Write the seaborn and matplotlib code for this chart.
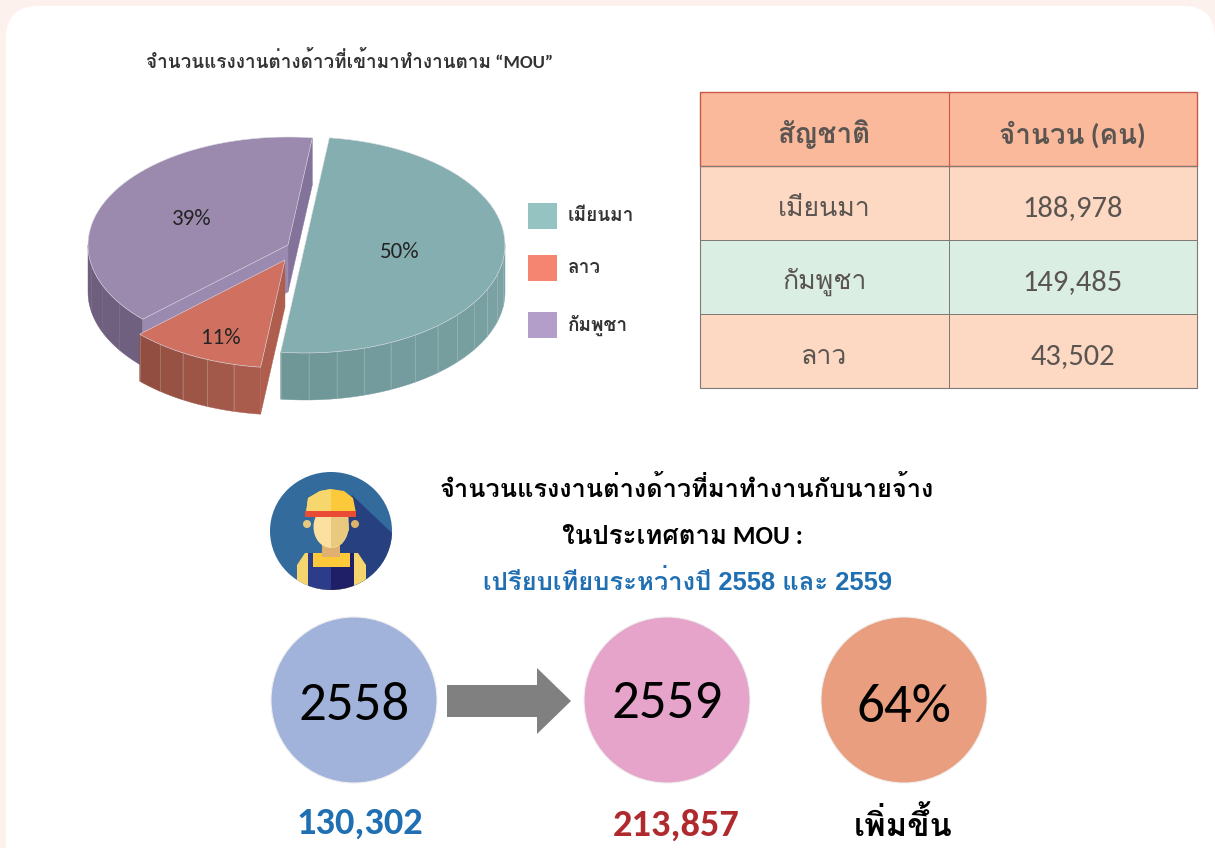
"""Infographic: MOU migrant workers in Thailand, 3D pie, table and yearly comparison."""
import numpy as np
import matplotlib
matplotlib.use('Agg')
import matplotlib.pyplot as plt
from matplotlib.colors import ListedColormap
from matplotlib.patches import Circle, Ellipse, FancyBboxPatch, Polygon, Rectangle
import seaborn as sns

sns.set_theme(style='white')
FONT = ['Carlito', 'Loma', 'Noto Sans Thai Looped', 'DejaVu Sans']
plt.rcParams['font.family'] = FONT

# ── data ──────────────────────────────────────────────
pie_names = ['เมียนมา', 'ลาว', 'กัมพูชา']
pie_values = [50, 11, 39]
table_header = ['สัญชาติ', 'จำนวน (คน)']
table_names = ['เมียนมา', 'กัมพูชา', 'ลาว']
table_values = [188978, 149485, 43502]
years = ['2558', '2559']
year_totals = [130302, 213857]
change_label = '64%'
change_word = 'เพิ่มขึ้น'
pie_title = 'จำนวนแรงงานต่างด้าวที่เข้ามาทำงานตาม “MOU”'
head_lines = ['จำนวนแรงงานต่างด้าวที่มาทำงานกับนายจ้าง', 'ในประเทศตาม MOU :']
sub_line = 'เปรียบเทียบระหว่างปี 2558 และ 2559'

# ── canvas in image pixels ────────────────────────────
fig = plt.figure(figsize=(12.15, 8.48), dpi=100, facecolor='#fdf1ee')
ax = fig.add_axes([0, 0, 1, 1])
ax.set_xlim(0, 1215)
ax.set_ylim(848, 0)
ax.axis('off')
ax.add_patch(FancyBboxPatch((6, 6), 1209, 900, boxstyle='round,pad=0,rounding_size=32',
                            fc='white', ec='none'))

# ── 3D pie ────────────────────────────────────────────
RX, RY, DEPTH = 200, 108, 47
START = 83.0
shares = np.array(pie_values) / sum(pie_values)
angles = START - np.concatenate([[0], np.cumsum(shares)]) * 360


def rim(cx, cy, t1, t2, n=60):
    t = np.radians(np.linspace(t1, t2, n))
    return np.column_stack([cx + RX * np.cos(t), cy - RY * np.sin(t)])


def wall(cx, cy, t1, t2, dark, light, step=9.0, seams=True):
    # outer wall of a slice, built from facets with a pale seam between them
    n = max(int(abs(t2 - t1) / step), 1)
    edges = np.linspace(t1, t2, n + 1)
    cols = sns.blend_palette([dark, light], n)
    for i in range(n):
        arc = rim(cx, cy, edges[i], edges[i + 1], 8)
        low = arc[::-1] + [0, DEPTH]
        ax.add_patch(Polygon(np.vstack([arc, low]), fc=cols[i], ec=cols[i], lw=0.3))
        if seams:
            ax.plot([arc[0, 0], arc[0, 0]], [arc[0, 1], arc[0, 1] + DEPTH],
                    color='#c9d4d2', lw=0.4, alpha=0.45)


def top(cx, cy, t1, t2, color):
    pts = np.vstack([[cx, cy], rim(cx, cy, t1, t2)])
    ax.add_patch(Polygon(pts, fc=color, ec='#dcdce4', lw=0.4))


def cut(cx, cy, t, color):
    # flat cut face from the apex to the rim, pushed down by the depth
    p = rim(cx, cy, t, t, 1)[0]
    pts = [[cx, cy], p, p + [0, DEPTH], [cx, cy + DEPTH]]
    ax.add_patch(Polygon(pts, fc=color, ec=color, lw=0.3))


# purple at the back first, then red, then teal on top
pc = (288, 245)
wall(*pc, -180, angles[2], '#6e5f7e', '#70607f', seams=False)
cut(*pc, angles[3] + 360, '#83739a')
cut(*pc, angles[2], '#9a8ab0')
top(*pc, angles[2], angles[3], '#9b89ae')

rc = (285, 260)
wall(*rc, angles[2], angles[1], '#914e41', '#a95c4b', step=7)
cut(*rc, angles[1], '#af5e4d')
top(*rc, angles[1], angles[2], '#d07060')

tc = (305, 245)
wall(*tc, angles[1], 0, '#6f9798', '#7ca3a5', step=8)
top(*tc, angles[0], angles[1], '#85aeb0')

pie_labels = [f'{v}%' for v in pie_values]
for txt, xy in zip(pie_labels, [(400, 252), (221, 338), (192, 219)]):
    ax.text(*xy, txt, ha='center', va='center', fontsize=16.5, color='#232323', fontweight='medium')

ax.text(350, 61, pie_title, ha='center', va='center', fontsize=13.6, color='#333333', fontweight='bold')

# legend
swatch_cols = ['#94c3c1', '#f58570', '#b39ec9']
for name, col, y in zip(pie_names, swatch_cols, [216, 268, 325]):
    ax.add_patch(Rectangle((528, y - 13), 29, 26, fc=col, ec='none'))
    ax.text(568, y, name, ha='left', va='center', fontsize=13.7, color='#333333', fontweight='bold')

# ── table, drawn as a heatmap ─────────────────────────
tax = fig.add_axes([700 / 1215, 1 - 388 / 848, 497 / 1215, 296 / 848])
codes = np.array([[0, 0], [1, 1], [2, 2], [1, 1]])
cells = [table_header] + [[n, f'{v:,}'] for n, v in zip(table_names, table_values)]
sns.heatmap(codes, annot=np.array(cells), fmt='', cbar=False, ax=tax, vmin=0, vmax=2,
            cmap=ListedColormap(['#fbb99b', '#fdd8c3', '#dbeee3']),
            linewidths=0.7, linecolor='#7f7a75', xticklabels=False, yticklabels=False,
            annot_kws={'fontsize': 19.2, 'color': '#5a5551'})
for i, t in enumerate(tax.texts):
    t.set_family(FONT)
    if i < 2:
        t.set_fontweight('bold')
        t.set_fontsize(20)
    elif i % 2 == 1:
        t.set_fontsize(22)
    x, y = t.get_position()
    t.set_position((x, y + 0.07))
tax.add_patch(Rectangle((0, 0), 2, 1, fc='none', ec='#c9574a', lw=1, clip_on=False))
tax.plot([1, 1], [0, 1], color='#c9574a', lw=0.8)
tax.add_patch(Rectangle((0, 1), 2, 3, fc='none', ec='#7f7a75', lw=0.8, clip_on=False))

# ── worker icon ───────────────────────────────────────
disc = Ellipse((331, 531), 122, 118, fc='#336b9c', ec='none')
ax.add_patch(disc)
parts = [
    Polygon([(352, 495), (395, 536), (392, 600), (350, 600), (320, 560)], fc='#27407f', ec='none'),
    Polygon([(297, 600), (297, 565), (305, 553), (358, 553), (366, 565), (366, 600)], fc='#f7d56e', ec='none'),
    Rectangle((313, 553), 37, 15, fc='#fcc93b', ec='none'),
    Polygon([(308, 553), (313, 553), (313, 567), (331, 567), (331, 600), (308, 600)], fc='#2b3d8a', ec='none'),
    Polygon([(331, 567), (350, 567), (350, 553), (354, 553), (354, 600), (331, 600)], fc='#1e1f66', ec='none'),
    Rectangle((322, 540), 18, 17, fc='#e0b070', ec='none'),
    Circle((307, 524), 4, fc='#e8c97e', ec='none'),
    Circle((355, 524), 4, fc='#d9b46a', ec='none'),
    Ellipse((331, 527), 35, 42, fc='#fbe0a0', ec='none'),
    Polygon([(331, 506), (348, 506), (349, 530), (342, 544), (331, 548)], fc='#e8c97e', ec='none'),
    Polygon([(306, 513), (308, 498), (320, 491), (331, 489), (344, 491), (353, 498), (356, 513)],
            fc='#fcc93b', ec='none'),
    Polygon([(306, 513), (308, 498), (320, 491), (331, 489), (331, 513)], fc='#f5d76e', ec='none'),
    Rectangle((305, 511), 51, 6, fc='#ea4b35', ec='none'),
]
for p in parts:
    ax.add_patch(p)
    p.set_clip_path(disc)

# ── headline ──────────────────────────────────────────
ax.text(687, 488, head_lines[0], ha='center', va='center', fontsize=18.3, color='black', fontweight='bold')
ax.text(682, 536, head_lines[1], ha='center', va='center', fontsize=18.6, color='black', fontweight='bold')
ax.text(688, 582, sub_line, ha='center', va='center', fontsize=18.4, color='#1f6fb2', fontweight='bold',
        family=['Liberation Sans', 'Loma'])

# ── yearly comparison ─────────────────────────────────
for label, x, col, ty in zip(years + [change_label], [354, 667, 904], ['#a1b2db', '#e6a4ca', '#e99e80'],
                             [706, 704, 707]):
    ax.add_patch(Circle((x, 700), 83, fc=col, ec='#eeeeee', lw=0.8))
    ax.text(x, ty, label, ha='center', va='center', fontsize=39.5, color='black')

ax.add_patch(Polygon([(447, 685), (537, 685), (537, 668), (571, 701), (537, 734), (537, 717), (447, 717)],
                     fc='#808080', ec='none'))

ax.text(360, 823, f'{year_totals[0]:,}', ha='center', va='center', fontsize=27.6, color='#1f6fb2', fontweight='bold')
ax.text(676, 825, f'{year_totals[1]:,}', ha='center', va='center', fontsize=27.6, color='#b02a2d', fontweight='bold')
ax.text(903, 824, change_word, ha='center', va='center', fontsize=23.5, color='black', fontweight='bold')

fig.savefig('out.png', dpi=100, facecolor=fig.get_facecolor())
plt.close(fig)
